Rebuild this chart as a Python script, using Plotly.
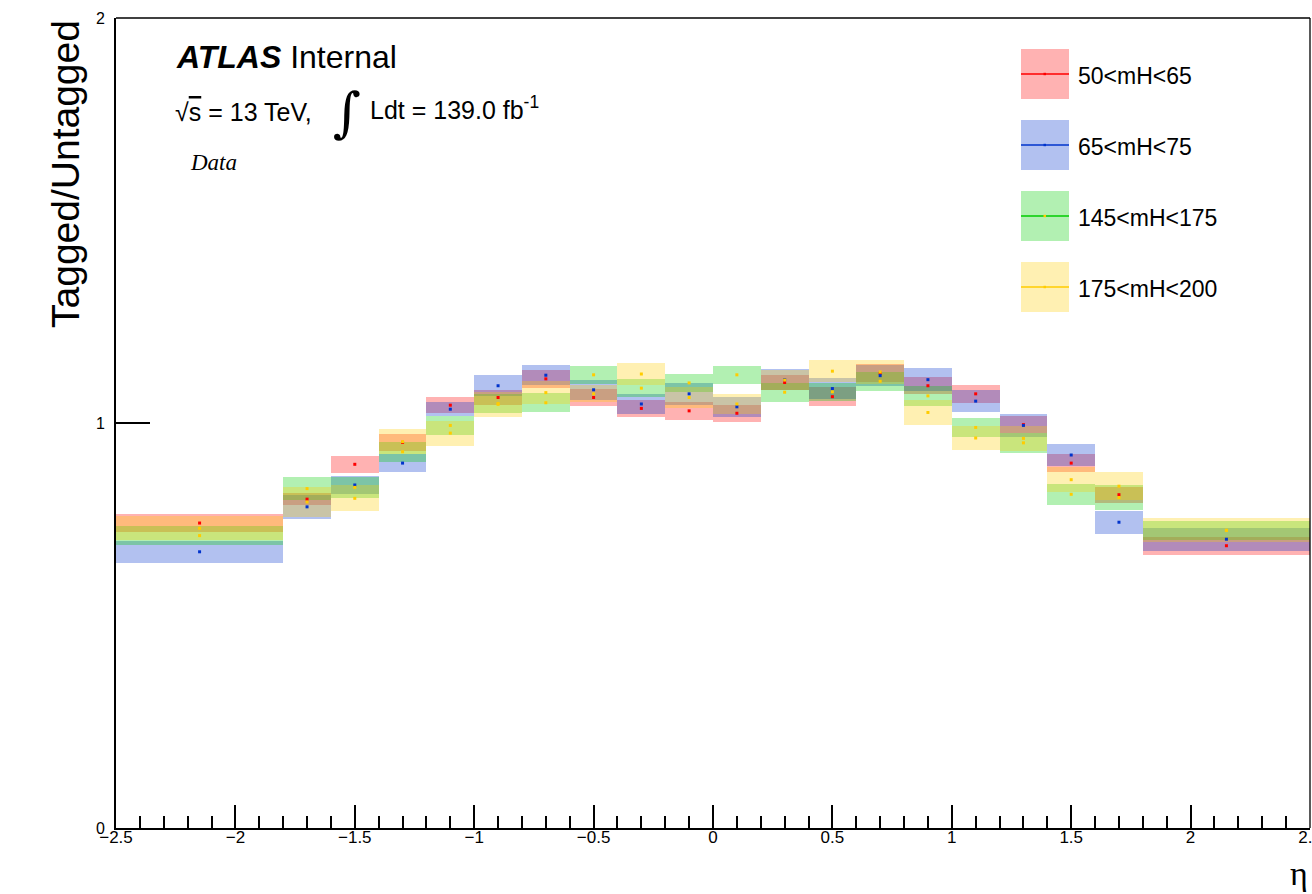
import plotly.graph_objects as go

# eta binning (coarse outer bins, 0.2 wide in the centre)
bin_edges = [-2.5, -1.8, -1.6, -1.4, -1.2, -1.0, -0.8, -0.6, -0.4, -0.2, 0.0,
             0.2, 0.4, 0.6, 0.8, 1.0, 1.2, 1.4, 1.6, 1.8, 2.5]

series_names = ["50<mH<65", "65<mH<75", "145<mH<175", "175<mH<200"]

# Tagged/Untagged ratio and its uncertainty per eta bin
ratio_50_65 = [0.753, 0.812, 0.898, 0.952, 1.044, 1.063, 1.109, 1.063, 1.036, 1.030,
               1.024, 1.100, 1.065, 1.123, 1.092, 1.072, 0.996, 0.901, 0.823, 0.697]
err_50_65 = [0.022, 0.015, 0.021, 0.021, 0.020, 0.019, 0.022, 0.021, 0.021, 0.022,
             0.021, 0.018, 0.023, 0.022, 0.021, 0.022, 0.021, 0.022, 0.020, 0.022]

ratio_65_75 = [0.682, 0.793, 0.847, 0.901, 1.034, 1.092, 1.118, 1.082, 1.047, 1.072,
               1.040, 1.107, 1.085, 1.117, 1.107, 1.054, 0.994, 0.921, 0.755, 0.713]
err_65_75 = [0.027, 0.030, 0.022, 0.022, 0.017, 0.026, 0.025, 0.024, 0.025, 0.027,
             0.025, 0.026, 0.026, 0.026, 0.029, 0.028, 0.028, 0.027, 0.028, 0.028]

ratio_145_175 = [0.722, 0.838, 0.841, 0.929, 0.994, 1.048, 1.050, 1.119, 1.086, 1.099,
                 1.119, 1.076, 1.077, 1.103, 1.067, 0.989, 0.951, 0.824, 0.816, 0.735]
err_145_175 = [0.023, 0.029, 0.026, 0.025, 0.023, 0.024, 0.024, 0.022, 0.022, 0.022,
               0.022, 0.024, 0.022, 0.024, 0.024, 0.024, 0.025, 0.026, 0.030, 0.023]

ratio_175_200 = [0.740, 0.805, 0.814, 0.954, 0.975, 1.046, 1.075, 1.072, 1.121, 1.063,
                 1.047, 1.106, 1.128, 1.126, 1.026, 0.963, 0.962, 0.860, 0.844, 0.735]
err_175_200 = [0.030, 0.036, 0.032, 0.031, 0.031, 0.030, 0.028, 0.021, 0.027, 0.026,
               0.025, 0.025, 0.027, 0.030, 0.031, 0.030, 0.030, 0.031, 0.035, 0.030]

x_tick_vals = [-2.5, -2.0, -1.5, -1.0, -0.5, 0.0, 0.5, 1.0, 1.5, 2.0, 2.5]
x_tick_text = ["\u22122.5", "\u22122", "\u22121.5", "\u22121", "\u22120.5", "0",
               "0.5", "1", "1.5", "2", "2.5"]
y_tick_vals = [0, 1, 2]

ratios = [ratio_50_65, ratio_65_75, ratio_145_175, ratio_175_200]
errors = [err_50_65, err_65_75, err_145_175, err_175_200]
band_colors = ["rgba(255,0,0,0.3)", "rgba(0,51,204,0.3)",
               "rgba(0,204,0,0.3)", "rgba(255,204,0,0.3)"]
line_colors = ["#ff0000", "#0033cc", "#00cc00", "#ffcc00"]
marker_colors = ["#ff0000", "#0033cc", "#ffcc00", "#ffcc00"]

centers = [(a + b) / 2 for a, b in zip(bin_edges[:-1], bin_edges[1:])]
widths = [b - a for a, b in zip(bin_edges[:-1], bin_edges[1:])]

FONT = "Liberation Sans, Arial, Helvetica, sans-serif"
SERIF = "Liberation Serif, Times New Roman, serif"

fig = go.Figure()

# uncertainty boxes
for vals, errs, col in zip(ratios, errors, band_colors):
    fig.add_trace(go.Bar(
        x=centers, y=[2 * e for e in errs], base=[v - e for v, e in zip(vals, errs)],
        width=widths, marker=dict(color=col, line=dict(width=0)),
        showlegend=False, hoverinfo="skip"))

# central values
for vals, mc in zip(ratios, marker_colors):
    fig.add_trace(go.Scatter(
        x=centers, y=vals, mode="markers",
        marker=dict(symbol="square", size=3, color=mc, line=dict(width=0)),
        showlegend=False, hoverinfo="skip"))

# plot-area pixel geometry
X0, X1, Y0, Y1 = 116, 1310, 828, 18
W, H = X1 - X0, Y0 - Y1


def px(x):
    return (x - X0) / W


def py(y):
    return (Y0 - y) / H


shapes = [
    dict(type="line", xref="paper", yref="paper", x0=0, x1=1, y0=1, y1=1,
         line=dict(color="black", width=1.3)),
    dict(type="line", xref="paper", yref="paper", x0=1, x1=1, y0=0, y1=1,
         line=dict(color="black", width=1.3)),
]
annotations = []

# legend: filled box with a line through it, plus label
for i, name in enumerate(series_names):
    top = 49 + 71 * i
    shapes.append(dict(type="rect", xref="paper", yref="paper",
                       x0=px(1021), x1=px(1069), y0=py(top + 50), y1=py(top),
                       fillcolor=band_colors[i], line=dict(width=0)))
    shapes.append(dict(type="line", xref="paper", yref="paper",
                       x0=px(1021), x1=px(1069), y0=py(top + 25), y1=py(top + 25),
                       line=dict(color=line_colors[i], width=1.5)))
    shapes.append(dict(type="rect", xref="paper", yref="paper",
                       x0=px(1043.5), x1=px(1046), y0=py(top + 26.2), y1=py(top + 23.8),
                       fillcolor=marker_colors[i], line=dict(width=0)))
    annotations.append(dict(text=name, xref="paper", yref="paper",
                            x=px(1076), y=py(top + 27), xanchor="left", yanchor="middle",
                            showarrow=False, font=dict(family=FONT, size=23, color="black")))

annotations += [
    dict(text="<b><i>ATLAS</i></b> Internal", xref="paper", yref="paper",
         x=px(174), y=py(57), xanchor="left", yanchor="middle", showarrow=False,
         font=dict(family=FONT, size=32, color="black")),
    dict(text="\u221a<span style=\"text-decoration:overline\">s</span> = 13 TeV,",
         xref="paper", yref="paper",
         x=px(173), y=py(112), xanchor="left", yanchor="middle", showarrow=False,
         font=dict(family=FONT, size=25, color="black")),
    dict(text="\u222b", xref="paper", yref="paper",
         x=px(347), y=py(113), xanchor="center", yanchor="middle", showarrow=False,
         font=dict(family="DejaVu Serif, serif", size=54, color="black")),
    dict(text="Ldt = 139.0 fb<sup>-1</sup>", xref="paper", yref="paper",
         x=px(368), y=py(108), xanchor="left", yanchor="middle", showarrow=False,
         font=dict(family=FONT, size=25, color="black")),
    dict(text="<i>Data</i>", xref="paper", yref="paper",
         x=px(188), y=py(162), xanchor="left", yanchor="middle", showarrow=False,
         font=dict(family=SERIF, size=23, color="black")),
    dict(text="Tagged/Untagged", xref="paper", yref="paper",
         x=px(65), y=py(18), xanchor="center", yanchor="top", textangle=-90,
         showarrow=False, font=dict(family=FONT, size=39, color="black")),
    dict(text="\u03b7", xref="paper", yref="paper",
         x=px(1310), y=py(874), xanchor="right", yanchor="middle",
         showarrow=False, font=dict(family=SERIF, size=34, color="black")),
]

fig.update_layout(
    width=1312, height=894, autosize=False,
    margin=dict(l=X0, r=1312 - X1, t=Y1, b=894 - Y0, pad=0, autoexpand=False),
    paper_bgcolor="white", plot_bgcolor="white",
    barmode="overlay", bargap=0, showlegend=False,
    font=dict(family=FONT, color="black"),
    shapes=shapes, annotations=annotations,
    xaxis=dict(range=[-2.5, 2.5], tickvals=x_tick_vals, ticktext=x_tick_text,
               ticks="inside", ticklen=23, tickwidth=1.5, tickcolor="black",
               minor=dict(dtick=0.1, tick0=-2.5, ticks="inside", ticklen=12,
                          tickwidth=1.5, tickcolor="black", showgrid=False),
               showline=True, linewidth=2, linecolor="black", showgrid=False,
               zeroline=False, tickfont=dict(size=17, family=FONT, color="black"),
               ticklabelstandoff=-7, ticklabeloverflow="allow", automargin=False,
               fixedrange=True),
    yaxis=dict(range=[0, 2], tickvals=y_tick_vals, ticks="inside", ticklen=34,
               tickwidth=2, tickcolor="black", showline=True, linewidth=2,
               linecolor="black", showgrid=False, zeroline=False,
               tickfont=dict(size=16, family=FONT, color="black"),
               ticklabelstandoff=6, automargin=False, fixedrange=True),
)

fig.write_html("out.html")
